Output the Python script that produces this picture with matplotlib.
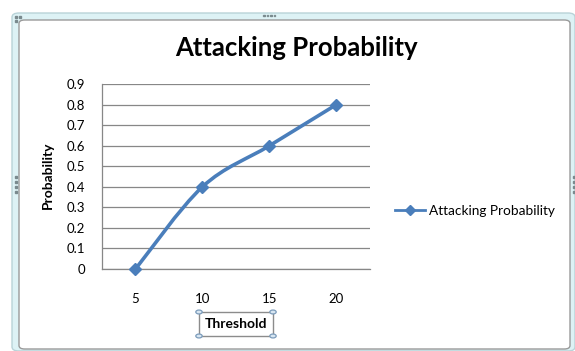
import matplotlib
matplotlib.use("Agg")
import matplotlib.pyplot as plt
from matplotlib.path import Path
from matplotlib.patches import PathPatch, FancyBboxPatch, Rectangle, Circle
import numpy as np

# chart data
thresholds = ["5", "10", "15", "20"]
attack_prob = [0.0, 0.4, 0.6, 0.8]
y_ticks = [0, 0.1, 0.2, 0.3, 0.4, 0.5, 0.6, 0.7, 0.8, 0.9]
series_name = "Attacking Probability"

W, H = 575, 351
LINE_BLUE = "#4A7EBB"
GRID = "#878787"

plt.rcParams["font.family"] = ["Lato", "DejaVu Sans"]

fig = plt.figure(figsize=(W / 100, H / 100), dpi=100)


def fx(px):
    return px / W


def fy(py):
    return 1 - py / H


# outer selection frame (light cyan band) and inner white chart area
outer = FancyBboxPatch((fx(12), fy(351)), fx(575) - fx(12), fy(13) - fy(351),
                       boxstyle="round,pad=0,rounding_size=0.012",
                       transform=fig.transFigure, facecolor="#DDF2F5",
                       edgecolor="#B9D3D8", linewidth=1.0, zorder=-3)
fig.patches.append(outer)
inner = FancyBboxPatch((fx(19), fy(349)), fx(570) - fx(19), fy(20) - fy(349),
                       boxstyle="round,pad=0,rounding_size=0.01",
                       transform=fig.transFigure, facecolor="white",
                       edgecolor="#9A9A9A", linewidth=1.0, zorder=-2)
fig.patches.append(inner)

# resize handles on the frame
for dx, dy in [(15, 16), (19, 16), (15, 20)]:
    fig.patches.append(Rectangle((fx(dx), fy(dy + 1.5)), 1.5 / W, 1.5 / H,
                                 transform=fig.transFigure, color="#7A8A8E", zorder=-1))
for dx in [263, 266.5, 270, 273.5]:
    fig.patches.append(Rectangle((fx(dx), fy(16)), 1.5 / W, 1.5 / H,
                                 transform=fig.transFigure, color="#7A8A8E", zorder=-1))
for dy in [178, 183, 188, 193]:
    fig.patches.append(Rectangle((fx(14.5), fy(dy)), 2 / W, 2 / H,
                                 transform=fig.transFigure, color="#7A8A8E", zorder=-1))
    fig.patches.append(Rectangle((fx(572.5), fy(dy)), 2 / W, 2 / H,
                                 transform=fig.transFigure, color="#7A8A8E", zorder=-1))

ax = fig.add_axes([fx(102), fy(269), fx(370) - fx(102), fy(84) - fy(269)])
ax.set_facecolor("none")

x = np.arange(len(thresholds))
y = np.array(attack_prob)

# smoothed line: cubic Bezier segments through the data points
pts = np.column_stack([x, y])
ext = np.vstack([pts[0], pts, pts[-1]])
verts = [tuple(pts[0])]
codes = [Path.MOVETO]
for i in range(len(pts) - 1):
    p0, p1, p2, p3 = ext[i], ext[i + 1], ext[i + 2], ext[i + 3]
    c1 = p1 + (p2 - p0) / 6
    c2 = p2 - (p3 - p1) / 6
    verts += [tuple(c1), tuple(c2), tuple(p2)]
    codes += [Path.CURVE4] * 3
ax.add_patch(PathPatch(Path(verts, codes), facecolor="none", edgecolor=LINE_BLUE,
                       linewidth=2.6, capstyle="round", joinstyle="round",
                       zorder=3, clip_on=False))
ax.plot(x, y, linestyle="none", marker="D", markersize=6.5, color=LINE_BLUE,
        zorder=4, clip_on=False)

ax.set_xlim(-0.5, len(thresholds) - 0.5)
ax.set_ylim(0, 0.9)
ax.set_xticks(x)
ax.set_xticklabels(thresholds)
ax.set_yticks(y_ticks)
ax.set_yticklabels([f"{v:g}" for v in y_ticks])
ax.tick_params(length=0, labelsize=9.5, colors="black", pad=12)
ax.tick_params(axis="x", pad=17)

ax.yaxis.grid(True, color=GRID, linewidth=0.9)
ax.set_axisbelow(True)
for side in ["top", "right"]:
    ax.spines[side].set_visible(False)
for side in ["left", "bottom"]:
    ax.spines[side].set_color(GRID)
    ax.spines[side].set_linewidth(0.9)

# legend line with diamond marker
ax.plot([], [], color=LINE_BLUE, linewidth=2.0, marker="D", markersize=5,
        label=series_name)
fig.legend(loc="center left", bbox_to_anchor=(fx(390), fy(211)), frameon=False,
           fontsize=9.8, handlelength=2.2, handletextpad=0.3, borderaxespad=0)

fig.text(fx(296), fy(48), "Attacking Probability", ha="center", va="center",
         fontsize=18.5, fontweight="bold")
fig.text(fx(48), fy(175), "Probability", ha="center", va="center",
         rotation=90, fontsize=10, fontweight="bold")

# axis title inside a selected text box with corner handles
bx0, by0, bx1, by1 = 199, 312, 273, 336
fig.patches.append(Rectangle((fx(bx0), fy(by1)), fx(bx1) - fx(bx0), fy(by0) - fy(by1),
                             transform=fig.transFigure, facecolor="white",
                             edgecolor="#8C8C8C", linewidth=1.0, zorder=2))
fig.text(fx((bx0 + bx1) / 2), fy((by0 + by1) / 2), "Threshold", ha="center",
         va="center", fontsize=10, fontweight="bold", zorder=3)
for cx, cy in [(bx0, by0), (bx1, by0), (bx0, by1), (bx1, by1)]:
    fig.patches.append(Circle((fx(cx), fy(cy)), 3.2 / W, transform=fig.transFigure,
                              facecolor="#D8E6F2", edgecolor="#7C9CBB",
                              linewidth=0.9, zorder=4))

fig.savefig("out.png", dpi=100)
